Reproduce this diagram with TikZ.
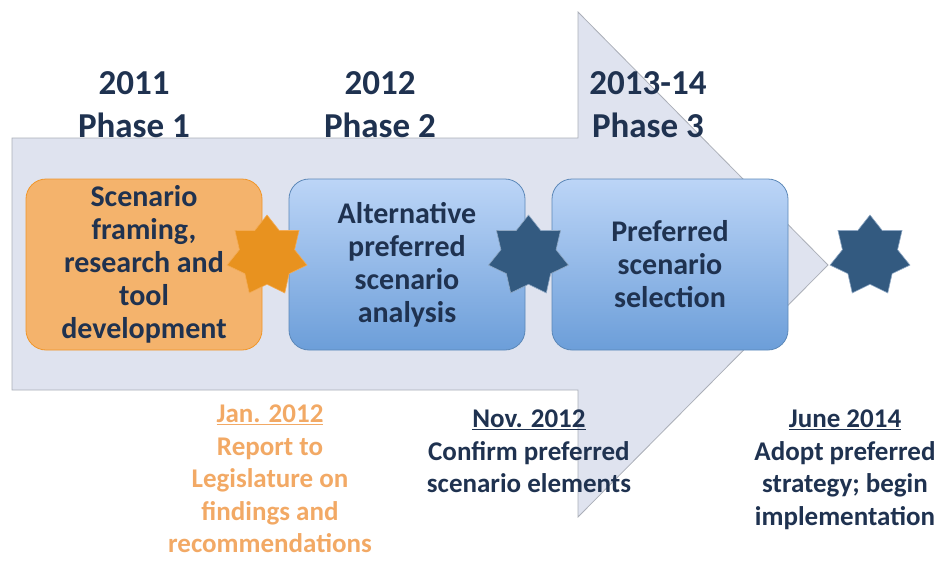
\documentclass[tikz,border=0pt]{standalone}
\usepackage{fontspec}
\setmainfont{Carlito}
\usetikzlibrary{shapes.geometric}
\definecolor{navy}{HTML}{1F3250}
\definecolor{arrowfill}{HTML}{DFE3EF}
\definecolor{arrowline}{HTML}{ABAFB8}
\definecolor{orfill}{HTML}{F4B36C}
\definecolor{orline}{HTML}{F0962A}
\definecolor{ortext}{HTML}{F2A965}
\definecolor{bltop}{HTML}{BCD5F7}
\definecolor{blbot}{HTML}{6C9ED9}
\definecolor{blline}{HTML}{5C88B8}
\definecolor{starorange}{HTML}{E8921F}
\definecolor{starblue}{HTML}{335A80}
\definecolor{starblueline}{HTML}{8FA8C4}
\tikzset{
  phasebox/.style={rectangle, rounded corners=20pt, minimum width=236pt, minimum height=171pt,
    align=center, text=navy, font=\bfseries\fontsize{30}{33}\selectfont, line width=0.8pt},
  orangebox/.style={phasebox, fill=orfill, draw=orline},
  bluebox/.style={phasebox, top color=bltop, bottom color=blbot, draw=blline},
  milestar/.style={star, star points=7, star point ratio=1.45, minimum size=82pt, inner sep=0pt, line width=0.6pt},
  orangestar/.style={milestar, fill=starorange, draw=orline!80!white},
  bluestar/.style={milestar, fill=starblue, draw=starblueline},
  phaselabel/.style={anchor=north, inner sep=0pt, align=center, text=navy, font=\bfseries\fontsize{35}{43}\selectfont},
  notelabel/.style={anchor=north, inner sep=0pt, align=center, font=\bfseries\fontsize{27}{32.5}\selectfont},
}
\begin{document}
\begin{tikzpicture}[x=1pt,y=-1pt]
\useasboundingbox (0,0) rectangle (938,562);
\draw[draw=arrowline, fill=arrowfill, line width=0.8pt]
  (12,138) -- (578,138) -- (578,12) -- (828,265) -- (578,517) -- (578,390) -- (12,390) -- cycle;

\node[phaselabel] (p1) at (134,71) {2011\\Phase 1};
\node[phaselabel] (p2) at (380,71) {2012\\Phase 2};
\node[phaselabel] (p3) at (648,71) {2013-14\\Phase 3};

\node[orangebox] (b1) at (144,264.5) {Scenario\\framing,\\research and\\tool\\development};
\node[bluebox] (b2) at (407,264.5) {Alternative\\preferred\\scenario\\analysis};
\node[bluebox] (b3) at (670,264.5) {Preferred\\scenario\\selection};

\node[orangestar] (s1) at (267,256) {};
\node[bluestar] (s2) at (528.5,256) {};
\node[bluestar] (s3) at (870,256) {};

\node[notelabel, text=ortext] (n1) at (270,405) {\underline{Jan. 2012}\\Report to\\Legislature on\\findings and\\recommendations};
\node[notelabel, text=navy] (n2) at (529,410) {\underline{Nov. 2012}\\Confirm preferred\\scenario elements};
\node[notelabel, text=navy] (n3) at (845,410) {\underline{June 2014}\\Adopt preferred\\strategy; begin\\implementation};
\end{tikzpicture}
\end{document}
